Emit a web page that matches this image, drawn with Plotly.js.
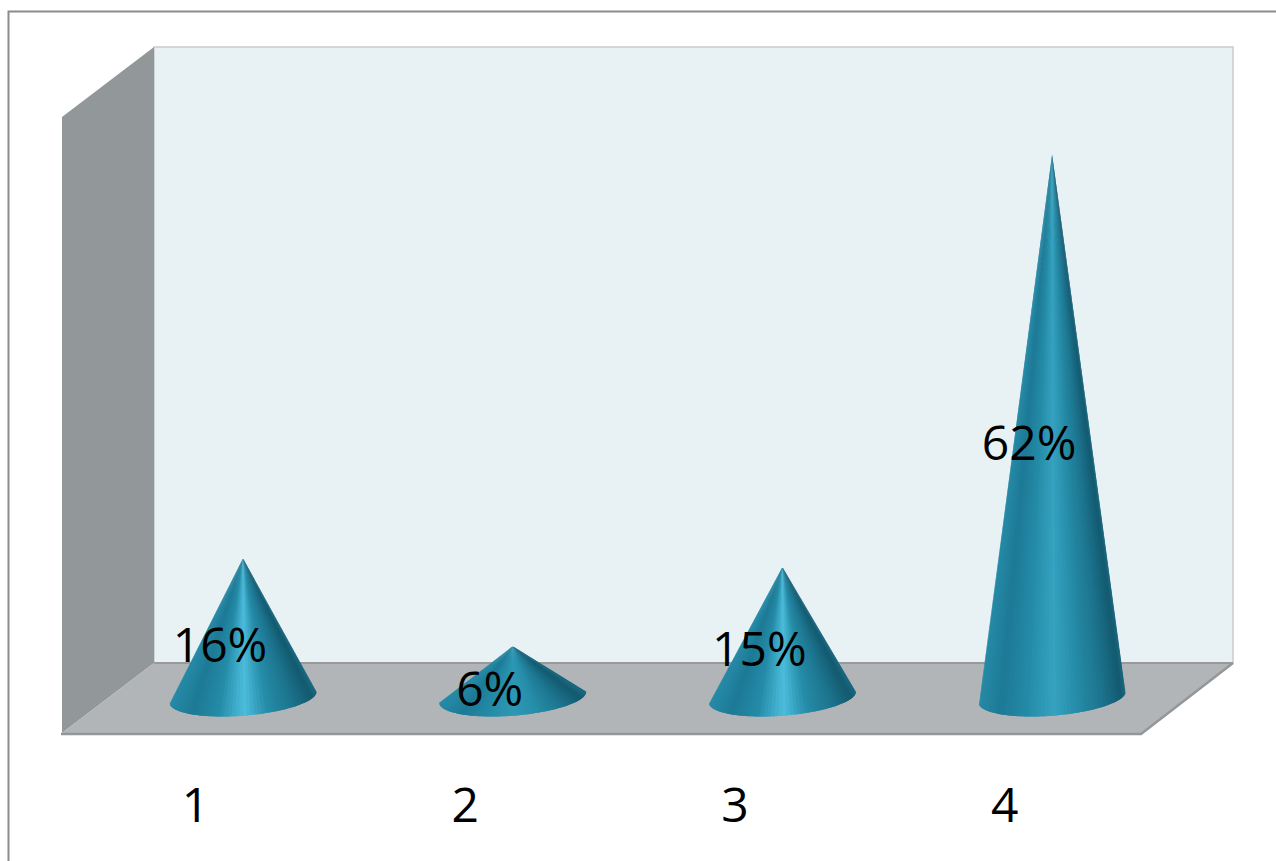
<!DOCTYPE html>
<html>
<head>
<meta charset="utf-8">
<script src="https://cdn.plot.ly/plotly-3.0.1.min.js"></script>
<style>html,body{margin:0;padding:0;background:#fff;overflow:hidden}</style>
</head>
<body>
<div id="chart" style="width:1276px;height:861px"></div>
<script>
// Data
const categories = [1, 2, 3, 4];
const percentValues = [16, 6, 15, 62];
const percentLabels = ['16%', '6%', '15%', '62%'];

// Plot geometry
const W = 1276, H = 861;
const PLOT = {l: 62, r: 1233, t: 47, b: 735};
const PX_PER_UNIT_X = 269.7, PX_PER_UNIT_Y = 8.78;
const ZERO_PX_Y = 699;
const TICK_X0 = 195.5;
const X_RANGE = [1 - (TICK_X0 - PLOT.l) / PX_PER_UNIT_X, 1 + (PLOT.r - TICK_X0) / PX_PER_UNIT_X];
const Y_RANGE = [(ZERO_PX_Y - PLOT.b) / PX_PER_UNIT_Y, (ZERO_PX_Y - PLOT.t) / PX_PER_UNIT_Y];

// Cone look
const DEPTH_X = 47.5 / PX_PER_UNIT_X;        // cones sit back from their tick by the floor's depth
const BASE_A = 73.5 / PX_PER_UNIT_X;
const BASE_B = 18.5 / PX_PER_UNIT_Y;
const BASE_SKEW = 5.5 / PX_PER_UNIT_Y;
const BASE_LIFT = 1.8 / PX_PER_UNIT_Y;
const LABEL_DX = -23 / PX_PER_UNIT_X;
const LABEL_DY = -21 / PX_PER_UNIT_Y;
const SLICES = 60;
const highlights = [[76, 188, 220], [46, 152, 180], [76, 188, 220], [54, 162, 192]];

function hex(c) { return 'rgb(' + c.map(v => Math.round(v)).join(',') + ')'; }
function shade(u, hi) {
  const stops = [
    [0.00, [38, 138, 166]],
    [0.15, [29, 122, 150]],
    [0.33, [36, 139, 167]],
    [0.51, hi],
    [0.66, [38, 142, 170]],
    [0.85, [28, 114, 140]],
    [0.97, [19, 90, 112]],
    [1.00, [26, 104, 128]]
  ];
  for (let i = 1; i < stops.length; i++) {
    if (u <= stops[i][0]) {
      const a = stops[i - 1], b = stops[i], f = (u - a[0]) / (b[0] - a[0]);
      return hex(a[1].map((v, k) => v + (b[1][k] - v) * f));
    }
  }
  return hex(stops[stops.length - 1][1]);
}

const traces = [];
categories.forEach((cat, i) => {
  const cx = cat + DEPTH_X, top = percentValues[i];
  const pt = t => [cx + BASE_A * Math.cos(t), BASE_LIFT + BASE_SKEW * Math.cos(t) - BASE_B * Math.sin(t)];
  for (let s = 0; s < SLICES; s++) {
    const t0 = Math.PI * (1 - s / SLICES);
    // each slice runs under the next one so that no seams show between them
    const t1 = Math.max(0, Math.PI * (1 - (s + 2) / SLICES));
    const p0 = pt(t0), mid = pt(Math.PI * (1 - (s + 0.5) / SLICES)), p1 = pt(Math.PI * (1 - (s + 1) / SLICES)), p2 = pt(t1);
    const u = (mid[0] - (cx - BASE_A)) / (2 * BASE_A);
    const col = shade(u, highlights[i]);
    traces.push({
      type: 'scatter', mode: 'lines', x: [cx, p0[0], p1[0], p2[0], cx], y: [top, p0[1], p1[1], p2[1], top],
      fill: 'toself', fillcolor: col, line: {color: col, width: 0},
      hoverinfo: 'skip', showlegend: false
    });
  }
});

traces.push({
  type: 'scatter', mode: 'text',
  x: categories.map(c => c + DEPTH_X + LABEL_DX),
  y: percentValues.map(v => v / 2 + LABEL_DY),
  text: percentLabels,
  textposition: 'middle center',
  textfont: {family: '"Open Sans", sans-serif', size: 48, color: '#000'},
  hoverinfo: 'skip', showlegend: false, cliponaxis: false
});

// Frame of the 3D box, in page pixels
function poly(pts, fill, lineCol, lineW) {
  const toX = x => (x - PLOT.l) / (PLOT.r - PLOT.l);
  const toY = y => (PLOT.b - y) / (PLOT.b - PLOT.t);
  const path = pts.map((p, i) => (i ? 'L' : 'M') + toX(p[0]).toFixed(5) + ',' + toY(p[1]).toFixed(5)).join(' ');
  return {
    type: 'path', xref: 'paper', yref: 'paper', layer: 'below',
    path: path + (fill ? ' Z' : ''), fillcolor: fill || 'rgba(0,0,0,0)',
    line: {color: lineCol || 'rgba(0,0,0,0)', width: lineW || 0}
  };
}
const shapes = [
  poly([[8.5, 861], [8.5, 11.5], [1276, 11.5]], null, '#8c8c8c', 2),
  poly([[154, 47], [1233, 47], [1233, 663], [154, 663]], '#e8f1f4', '#c9cbcc', 1.5),
  poly([[62, 117], [154, 47], [154, 663], [62, 733]], '#92979a'),
  poly([[62, 733], [154, 663], [1233, 663], [1141, 733]], '#b1b5b8'),
  poly([[154, 663], [1233, 663]], null, '#98999b', 2),
  poly([[61, 734], [1141, 734], [1233, 663]], null, '#94979a', 2.5)
];

Plotly.newPlot('chart', traces, {
  width: W, height: H,
  margin: {l: PLOT.l, r: W - PLOT.r, t: PLOT.t, b: H - PLOT.b, pad: 0},
  paper_bgcolor: '#fff', plot_bgcolor: 'rgba(0,0,0,0)',
  showlegend: false,
  font: {family: '"Open Sans", sans-serif', color: '#000'},
  xaxis: {
    range: X_RANGE, tickmode: 'array', tickvals: categories, ticktext: categories.map(String),
    showgrid: false, zeroline: false, showline: false, ticks: '',
    ticklabelstandoff: 38,
    tickfont: {family: '"Open Sans", sans-serif', size: 48, color: '#000'}
  },
  yaxis: {range: Y_RANGE, showgrid: false, zeroline: false, showline: false, showticklabels: false, ticks: ''},
  shapes: shapes
}, {displayModeBar: false, staticPlot: true});
</script>
</body>
</html>
